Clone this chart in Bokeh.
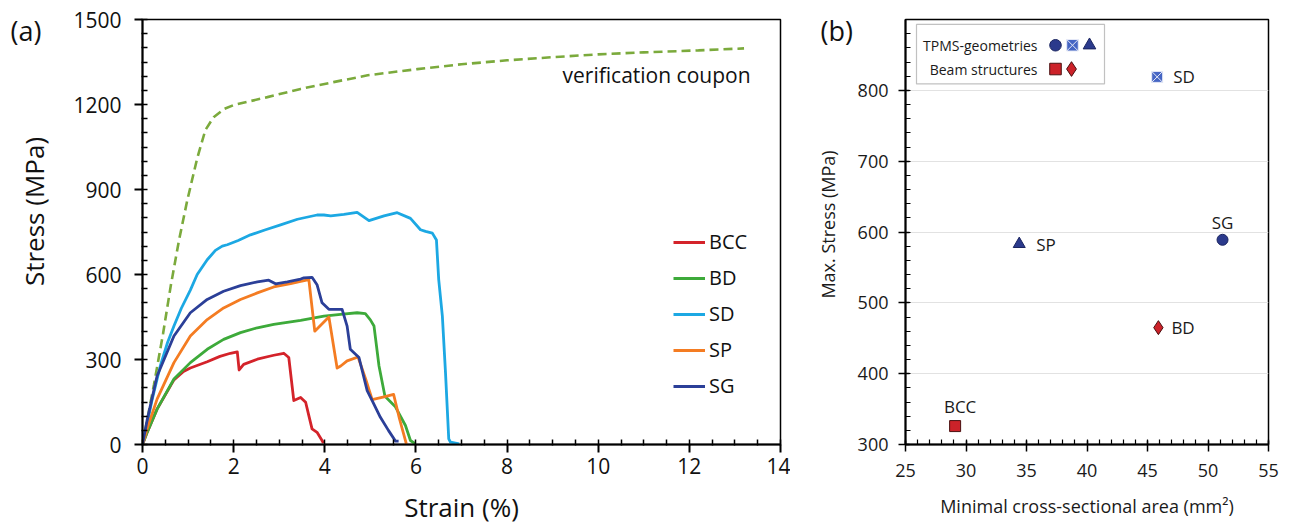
import math
from bokeh.plotting import figure
from bokeh.layouts import row
from bokeh.models import (Legend, LegendItem, Label, BoxAnnotation, FixedTicker, Range1d)
from bokeh.embed import file_html
from bokeh.resources import INLINE

FONT = "Open Sans"

# ---------------- data: panel (a) stress-strain curves ----------------
coupon_strain = [0, 0.25, 0.45, 0.62, 0.8, 0.98, 1.2, 1.38, 1.56, 1.8, 2.0, 2.74, 3.47, 4.19, 4.94, 6.03, 7.0, 8.0, 9.0, 10.0, 11.0, 12.2, 13.2]
coupon_stress = [0, 210, 390, 560, 720, 860, 1010, 1110, 1155, 1185, 1198, 1226, 1255, 1279, 1303, 1325, 1342, 1356, 1367, 1377, 1384, 1391, 1398]

bcc_strain = [0, 0.1, 0.32, 0.69, 0.9, 1.05, 1.42, 1.7, 1.93, 2.08, 2.12, 2.22, 2.52, 2.88, 3.1, 3.21, 3.32, 3.47, 3.58, 3.65, 3.72, 3.83, 3.94, 3.97]
bcc_stress = [0, 42, 125, 228, 258, 270, 292, 311, 322, 327, 263, 283, 301, 315, 322, 307, 155, 166, 149, 102, 55, 43, 14, 5]

bd_strain = [0, 0.1, 0.32, 0.69, 1.05, 1.42, 1.78, 2.15, 2.52, 2.88, 3.47, 3.98, 4.4, 4.71, 4.89, 5.0, 5.08, 5.19, 5.32, 5.55, 5.77, 5.88, 5.99]
bd_stress = [0, 42, 125, 231, 289, 336, 371, 395, 412, 424, 438, 453, 460, 465, 462, 440, 418, 277, 170, 133, 67, 14, 2]

sd_strain = [0, 0.1, 0.2, 0.39, 0.55, 0.69, 0.85, 1.05, 1.2, 1.42, 1.6, 1.75, 1.86, 2.1, 2.37, 2.7, 3.03, 3.4, 3.83, 3.98, 4.13, 4.42, 4.71, 4.97, 5.3, 5.59, 5.88, 6.1, 6.21, 6.36, 6.45, 6.5, 6.58, 6.65, 6.72, 6.76, 6.95]
sd_stress = [0, 70, 150, 277, 360, 418, 480, 545, 600, 652, 685, 700, 705, 720, 740, 758, 775, 795, 810, 810, 807, 812, 819, 790, 807, 818, 798, 758, 752, 746, 722, 582, 453, 250, 20, 8, 2]

sp_strain = [0, 0.1, 0.32, 0.69, 1.05, 1.42, 1.78, 2.15, 2.52, 2.88, 3.25, 3.47, 3.65, 3.78, 4.09, 4.27, 4.35, 4.49, 4.73, 4.9, 5.04, 5.3, 5.51, 5.64, 5.79]
sp_stress = [0, 55, 160, 289, 383, 441, 482, 512, 535, 556, 568, 576, 582, 400, 450, 270, 277, 295, 309, 230, 158, 168, 177, 90, 2]

sg_strain = [0, 0.1, 0.32, 0.69, 1.05, 1.42, 1.78, 2.15, 2.52, 2.77, 2.92, 3.18, 3.47, 3.54, 3.72, 3.83, 3.94, 4.09, 4.38, 4.49, 4.56, 4.75, 4.93, 5.04, 5.22, 5.4, 5.55, 5.62]
sg_stress = [0, 85, 242, 383, 465, 512, 541, 561, 574, 580, 567, 574, 584, 588, 590, 564, 500, 477, 477, 418, 336, 307, 190, 155, 96, 49, 12, 12]

series_names = ["BCC", "BD", "SD", "SP", "SG"]
series_colors = ["#D4232A", "#3DAA3A", "#1CA8E3", "#F47C22", "#2B3F98"]

x_ticks_a = [0, 2, 4, 6, 8, 10, 12, 14]
y_ticks_a = [0, 300, 600, 900, 1200, 1500]

# ---------------- data: panel (b) max stress vs area ----------------
b_names = ["BCC", "BD", "SD", "SP", "SG"]
b_area = [29.1, 45.9, 45.8, 34.4, 51.2]
b_max_stress = [326, 465, 819, 583, 589]
b_markers = ["square", "diamond", "square_x", "triangle", "circle"]

x_ticks_b = [25, 30, 35, 40, 45, 50, 55]
y_ticks_b = [300, 400, 500, 600, 700, 800]

H = 527

def side_label(text, x, y, size, angle=0.0, color="#111111", align="left"):
    return Label(x=x, y=y, x_units="canvas", y_units="canvas", text=text, angle=angle,
                 text_align=align, text_baseline="middle", text_font=FONT,
                 text_font_size=size, text_color=color)

# ================= panel (a) =================
pa = figure(width=790, height=H, output_backend="svg", toolbar_location=None,
            x_range=Range1d(0, 14), y_range=Range1d(0, 1500),
            min_border_left=142, min_border_right=10, min_border_top=17, min_border_bottom=H - 444)
pa.background_fill_color = "white"
pa.border_fill_color = "white"
pa.outline_line_color = "black"
pa.outline_line_width = 1.5
pa.xgrid.visible = False
pa.ygrid.visible = False

pa.line(coupon_strain, coupon_stress, line_color="#7BAA3C", line_width=2.6, line_dash="9 5")
pa.add_layout(Label(x=11.28, y=1303, text="verification coupon", text_align="center",
                    text_baseline="middle", text_font=FONT, text_font_size="21px", text_color="#111111"))

curves = [(bcc_strain, bcc_stress), (bd_strain, bd_stress), (sd_strain, sd_stress),
          (sp_strain, sp_stress), (sg_strain, sg_stress)]
renderers = []
for (xs, ys), c in zip(curves, series_colors):
    renderers.append(pa.line(xs, ys, line_color=c, line_width=2.8, line_join="round"))

legend = Legend(items=[LegendItem(label=n, renderers=[r]) for n, r in zip(series_names, renderers)],
                location=(531, 45), background_fill_alpha=0, border_line_alpha=0,
                glyph_width=32, glyph_height=20, label_height=20, spacing=9, padding=0, margin=0,
                label_standoff=4, label_text_font=FONT, label_text_font_size="20px",
                label_text_color="#111111")
pa.add_layout(legend)

for ax in (pa.xaxis[0], pa.yaxis[0]):
    ax.axis_line_color = "black"
    ax.axis_line_width = 2
    ax.major_tick_line_color = "black"
    ax.major_tick_line_width = 2
    ax.minor_tick_line_color = "black"
    ax.minor_tick_line_width = 1.5
    ax.major_tick_out = 8
    ax.major_tick_in = 0
    ax.minor_tick_in = 5
    ax.minor_tick_out = 1
    ax.major_label_text_font = FONT
    ax.major_label_text_font_size = "21px"
    ax.major_label_text_color = "#111111"
    ax.axis_label_text_font = FONT
    ax.axis_label_text_font_style = "normal"
    ax.axis_label_text_font_size = "26px"
    ax.axis_label_text_color = "#111111"

pa.xaxis.ticker = FixedTicker(ticks=x_ticks_a, minor_ticks=[i * 0.5 for i in range(0, 29)])
pa.yaxis.ticker = FixedTicker(ticks=y_ticks_a, minor_ticks=list(range(0, 1501, 50)))
pa.xaxis.axis_label = "Strain (%)"
pa.xaxis.major_label_standoff = 5
pa.xaxis.axis_label_standoff = 12
pa.yaxis.major_label_standoff = 13

# y title and panel tag live in the left side panel (not clipped to the frame)
pa.add_layout(side_label("(a)", 10, 30, "27px"), "left")
pa.add_layout(side_label("Stress (MPa)", 33, 211, "26px", angle=math.pi / 2, align="center"), "left")

# ================= panel (b) =================
pb = figure(width=498, height=H, output_backend="svg", toolbar_location=None,
            x_range=Range1d(25, 55), y_range=Range1d(300, 900),
            min_border_left=115, min_border_right=20, min_border_top=19, min_border_bottom=H - 448)
pb.outline_line_color = "black"
pb.outline_line_width = 1.5
pb.xgrid.visible = False
pb.ygrid.grid_line_color = "#E2E2E2"
pb.ygrid.grid_line_width = 1
pb.ygrid.ticker = FixedTicker(ticks=[400, 500, 600, 700, 800])

for ax in (pb.xaxis[0], pb.yaxis[0]):
    ax.axis_line_color = "black"
    ax.axis_line_width = 2
    ax.major_tick_line_color = "black"
    ax.major_tick_line_width = 1.5
    ax.minor_tick_line_color = "black"
    ax.minor_tick_line_width = 1.2
    ax.major_tick_out = 7
    ax.major_tick_in = 4
    ax.minor_tick_in = 5
    ax.minor_tick_out = 0
    ax.major_label_text_font = FONT
    ax.major_label_text_font_size = "18px"
    ax.major_label_text_color = "#1a1a1a"
    ax.axis_label_text_font = FONT
    ax.axis_label_text_font_style = "normal"
    ax.axis_label_text_font_size = "18px"
    ax.axis_label_text_color = "#1a1a1a"

pb.xaxis.ticker = FixedTicker(ticks=x_ticks_b, minor_ticks=list(range(25, 56)))
pb.yaxis.ticker = FixedTicker(ticks=y_ticks_b, minor_ticks=list(range(300, 901, 20)))
pb.xaxis.axis_label = "Minimal cross-sectional area (mm²)"
pb.xaxis.major_label_standoff = 12
pb.xaxis.axis_label_standoff = 14
pb.yaxis.major_label_standoff = 10

pb.add_layout(side_label("(b)", 30, 30, "27px"), "left")
pb.add_layout(side_label("Max. Stress (MPa)", 37, 224, "18px", angle=math.pi / 2, align="center",
                         color="#1a1a1a"), "left")

styles = {
    "square":   dict(fill_color="#CC2229", line_color="#4A1010", size=11),
    "diamond":  dict(fill_color="#CC2229", line_color="#4A1010", size=14),
    "square_x": dict(fill_color="#4565C4", line_color="#E6EAF7", size=11),
    "triangle": dict(fill_color="#2B3A8C", line_color="#1B2560", size=12),
    "circle":   dict(fill_color="#2B3A8C", line_color="#1B2560", size=11),
}
label_offsets = {"BCC": (5, 20, "center"), "BD": (13, 0, "left"), "SD": (16, 0, "left"),
                 "SP": (17, 0, "left"), "SG": (0, 17, "center")}
for n, xa, ya, m in zip(b_names, b_area, b_max_stress, b_markers):
    pb.scatter([xa], [ya], marker=m, line_width=1, **styles[m])
    dx, dy, al = label_offsets[n]
    pb.add_layout(Label(x=xa, y=ya, x_offset=dx, y_offset=dy, text=n, text_align=al,
                        text_baseline="middle", text_font=FONT, text_font_size="17px",
                        text_color="#1a1a1a"))

# legend box of panel (b): positions from screen pixels relative to the frame
def bx(px):
    return 25 + (px - 905) * 30 / 363.0

def by(py):
    return 900 - (py - 19) * 600 / 429.0

pb.add_layout(BoxAnnotation(left=bx(916), right=bx(1104), top=by(24), bottom=by(84), level="underlay",
                            fill_color="white", fill_alpha=1, line_color="#333333", line_width=1.2))
pb.add_layout(Label(x=bx(1037), y=by(45), text="TPMS-geometries", text_align="right",
                    text_baseline="middle", text_font=FONT, text_font_size="14px", text_color="#1a1a1a"))
pb.add_layout(Label(x=bx(1037), y=by(69), text="Beam structures", text_align="right",
                    text_baseline="middle", text_font=FONT, text_font_size="14px", text_color="#1a1a1a"))
leg_rows = [(by(45), ["circle", "square_x", "triangle"], [1055, 1072, 1089]),
            (by(69), ["square", "diamond"], [1055, 1071])]
for yy, ms, pxs in leg_rows:
    for m, px in zip(ms, pxs):
        st = dict(styles[m])
        st["size"] = st["size"] * 1.05
        pb.scatter([bx(px)], [yy], marker=m, line_width=1, **st)

layout = row(pa, pb)
open("out.html", "w").write(file_html(layout, INLINE))
